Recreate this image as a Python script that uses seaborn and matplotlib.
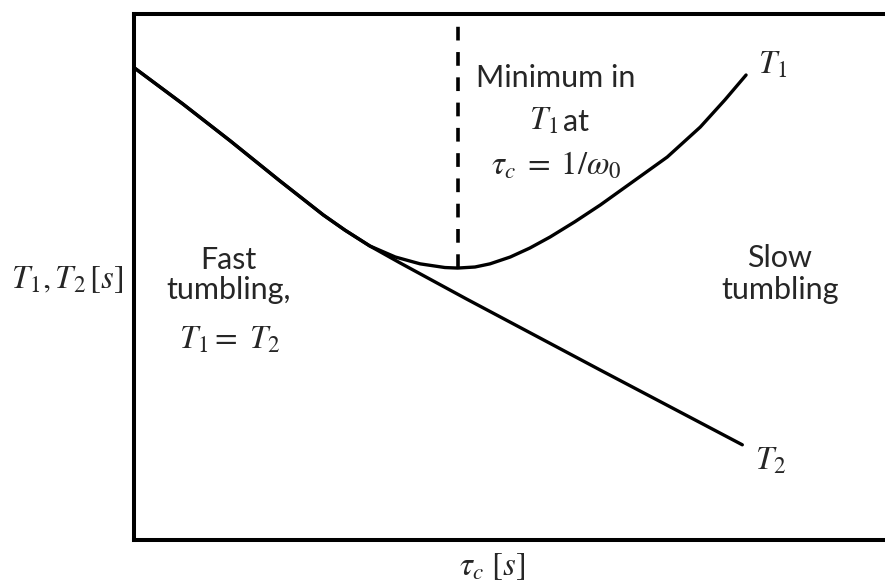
import matplotlib
matplotlib.use("Agg")
import matplotlib.pyplot as plt
import seaborn as sns
import pandas as pd

# Correlation time (log scale, arbitrary units)
tau_t1 = [0.01, 0.65, 1.28, 1.94, 2.52, 2.81, 3.14, 3.48, 3.81, 4.14, 4.31, 4.54,
          4.74, 5.01, 5.27, 5.54, 5.87, 6.21, 6.67, 7.10, 7.54, 7.87, 8.15]
# Longitudinal relaxation time T1 (log scale, arbitrary units)
t1_vals = [8.97, 8.29, 7.59, 6.83, 6.18, 5.89, 5.59, 5.38, 5.25, 5.18, 5.17, 5.19,
           5.25, 5.38, 5.55, 5.76, 6.05, 6.37, 6.84, 7.28, 7.85, 8.37, 8.84]

tau_t2 = [0.01, 0.65, 1.28, 1.94, 2.52, 2.81, 3.14, 3.54, 4.43, 6.21, 8.10]
# Transverse relaxation time T2 (log scale, arbitrary units)
t2_vals = [8.97, 8.29, 7.59, 6.83, 6.18, 5.89, 5.59, 5.27, 4.58, 3.23, 1.81]

# T1 minimum, where tau_c = 1/omega_0
tau_min = 4.31
t1_min = 5.17

sns.set_theme(style="white")
plt.rcParams["font.family"] = ["Lato", "DejaVu Sans"]
plt.rcParams["mathtext.fontset"] = "stix"

fig = plt.figure(figsize=(8.85, 5.85), dpi=100)
ax = fig.add_axes([134 / 885, 45 / 585, 751 / 885, 526 / 585])

df1 = pd.DataFrame({"tau": tau_t1, "T": t1_vals})
df2 = pd.DataFrame({"tau": tau_t2, "T": t2_vals})
sns.lineplot(data=df1, x="tau", y="T", ax=ax, color="black", lw=2.4,
             estimator=None, sort=False)
sns.lineplot(data=df2, x="tau", y="T", ax=ax, color="black", lw=2.4,
             estimator=None, sort=False)

# dashed marker from the T1 minimum up to the frame
ax.plot([tau_min, tau_min], [t1_min, 10], color="black", lw=2.6,
        ls=(0, (3.8, 3.2)), solid_capstyle="butt")

ax.set_xlim(0, 10)
ax.set_ylim(0, 10)
ax.set_xticks([])
ax.set_yticks([])
ax.set_xlabel("")
ax.set_ylabel("")
for side in ["left", "top", "bottom"]:
    ax.spines[side].set_color("black")
    ax.spines[side].set_linewidth(2.9)
ax.spines["right"].set_visible(False)

msize = 23.5
tsize = 22

ax.text(tau_t1[-1] + 0.35, t1_vals[-1] + 0.2, r"$T_1$", fontsize=msize,
        ha="center", va="center")
ax.text(tau_t2[-1] + 0.38, t2_vals[-1] - 0.3, r"$T_2$", fontsize=msize,
        ha="center", va="center")

ax.text(5.62, 8.78, "Minimum in", fontsize=tsize, ha="center", va="center")
ax.text(5.45, 7.97, r"$T_1$", fontsize=msize, ha="center", va="center")
ax.text(5.88, 7.95, "at", fontsize=tsize, ha="center", va="center")
ax.text(5.62, 7.13, r"$\tau_c\;=\;1/\omega_0$", fontsize=msize,
        ha="center", va="center")

ax.text(1.26, 5.32, "Fast", fontsize=tsize, ha="center", va="center")
ax.text(1.26, 4.75, "tumbling,", fontsize=tsize, ha="center", va="center")
ax.text(1.28, 3.80, r"$T_1 =\ T_2$", fontsize=msize, ha="center", va="center")

ax.text(8.6, 5.36, "Slow", fontsize=tsize, ha="center", va="center")
ax.text(8.6, 4.75, "tumbling", fontsize=tsize, ha="center", va="center")

fig.text(67 / 885, 1 - 280 / 585, r"$T_1, T_2\,[s]$", fontsize=msize,
         ha="center", va="center")
fig.text(492 / 885, 1 - 567 / 585, r"$\tau_c\ [s]$", fontsize=msize,
         ha="center", va="center")

fig.savefig("out.png", dpi=100, facecolor="white")
